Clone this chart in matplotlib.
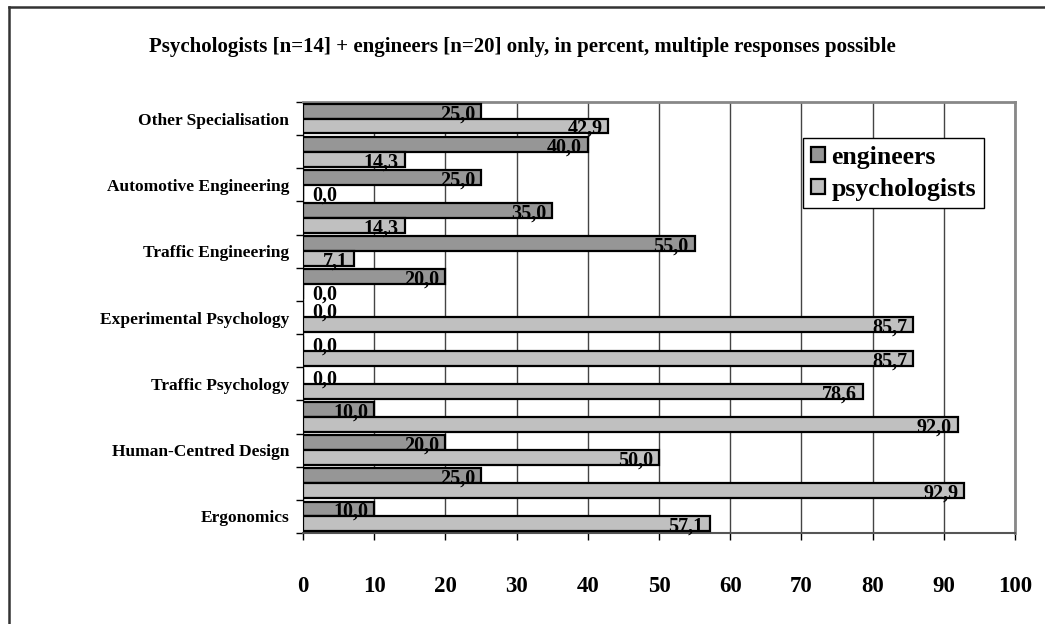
import numpy as np
import matplotlib
matplotlib.use("Agg")
import matplotlib.pyplot as plt
from matplotlib.lines import Line2D
from matplotlib.patches import Patch

# categories from bottom to top, every other one has no visible label
categories = ["Ergonomics", "", "Human-Centred Design", "", "Traffic Psychology", "",
              "Experimental Psychology", "", "Traffic Engineering", "",
              "Automotive Engineering", "", "Other Specialisation"]
engineers = [10.0, 25.0, 20.0, 10.0, 0.0, 0.0, 0.0, 20.0, 55.0, 35.0, 25.0, 40.0, 25.0]
psychologists = [57.1, 92.9, 50.0, 92.0, 78.6, 85.7, 85.7, 0.0, 7.1, 14.3, 0.0, 14.3, 42.9]
x_ticks = list(range(0, 101, 10))

title = "Psychologists [n=14] + engineers [n=20] only, in percent, multiple responses possible"

plt.rcParams["font.family"] = ["Liberation Serif", "DejaVu Serif"]
plt.rcParams["font.weight"] = "bold"

W, H = 1045, 624
fig = plt.figure(figsize=(W / 100, H / 100), dpi=100)
ax = fig.add_axes([303 / W, 1 - 533 / H, (1015 - 303) / W, (533 - 102) / H])

n = len(categories)
pos = np.arange(n) + 0.5
bh = 0.45
eng_col = "#969696"
psy_col = "#c0c0c0"

ax.barh(pos + bh / 2, engineers, height=bh, color=eng_col, edgecolor="black",
        linewidth=1.6, label="engineers", zorder=3)
ax.barh(pos - bh / 2, psychologists, height=bh, color=psy_col, edgecolor="black",
        linewidth=1.6, label="psychologists", zorder=3)

def put_label(v, y):
    txt = f"{v:.1f}".replace(".", ",")
    if v > 0:
        ax.annotate(txt, (v, y), xytext=(-6, -3), textcoords="offset pixels",
                    ha="right", va="center", fontsize=14.5, fontweight="bold", zorder=4)
    else:
        ax.annotate(txt, (0, y), xytext=(9, -3), textcoords="offset pixels",
                    ha="left", va="center", fontsize=14.5, fontweight="bold", zorder=4)

for i in range(n):
    put_label(engineers[i], pos[i] + bh / 2)
    put_label(psychologists[i], pos[i] - bh / 2)

ax.set_xlim(0, 100)
ax.set_ylim(0, n)
ax.set_xticks(x_ticks)
ax.set_xticklabels([str(t) for t in x_ticks], fontsize=16.5, fontweight="bold")
ax.tick_params(axis="x", direction="out", length=5, width=1, pad=26, color="black")

ax.set_yticks(np.arange(n + 1))
ax.set_yticklabels([])
ax.set_yticks(pos, minor=True)
ax.set_yticklabels(categories, minor=True, fontsize=12.5, fontweight="bold")
ax.tick_params(axis="y", which="major", direction="out", length=5, width=1, color="black")
ax.tick_params(axis="y", which="minor", length=0, pad=10)

ax.grid(axis="x", color="#444444", linewidth=1, zorder=0)
ax.set_axisbelow(True)

for s in ["top", "right"]:
    ax.spines[s].set_color("#888888")
    ax.spines[s].set_linewidth(2)
ax.spines["left"].set_color("black")
ax.spines["bottom"].set_color("#555555")
ax.spines["bottom"].set_linewidth(1.5)

fig.text(522 / W, 1 - 47 / H, title, ha="center", va="center", fontsize=15, fontweight="bold")

handles = [Patch(facecolor=eng_col, edgecolor="black", linewidth=1.6),
           Patch(facecolor=psy_col, edgecolor="black", linewidth=1.6)]
leg = fig.legend(handles, ["engineers", "psychologists"], loc="upper left",
                 bbox_to_anchor=(803 / W, 1 - 138 / H), fancybox=False, shadow=False,
                 edgecolor="black", framealpha=1, prop={"size": 18.5, "weight": "bold"},
                 handlelength=0.55, handleheight=0.55, handletextpad=0.25,
                 borderpad=0.3, labelspacing=0.35, borderaxespad=0)
leg.get_frame().set_linewidth(1)

# outer chart border (only left and top are inside the picture)
fig.add_artist(Line2D([9 / W, 9 / W], [0, 1 - 7 / H], color="#333333", linewidth=1.8,
                      transform=fig.transFigure))
fig.add_artist(Line2D([9 / W, 1], [1 - 7 / H, 1 - 7 / H], color="#333333", linewidth=1.8,
                      transform=fig.transFigure))

fig.savefig("out.png", dpi=100)
